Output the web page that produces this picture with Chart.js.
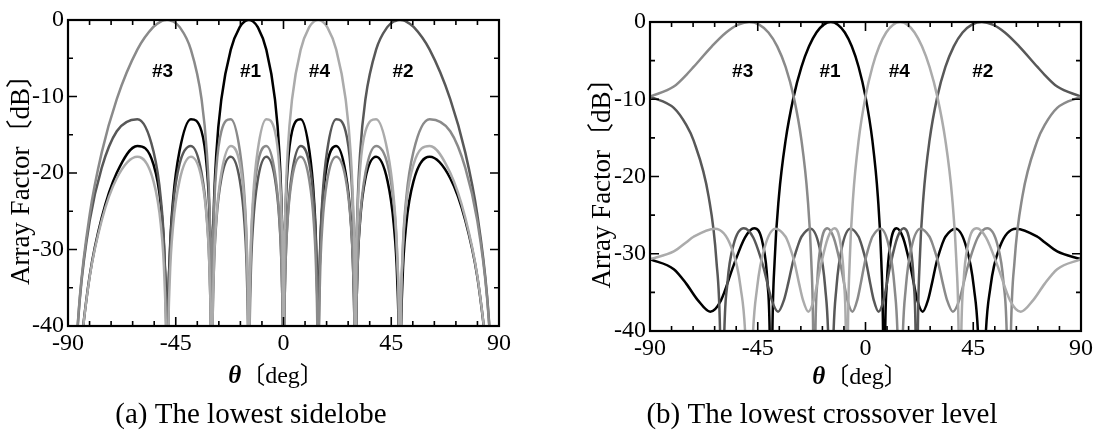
<!DOCTYPE html>
<html>
<head>
<meta charset="utf-8">
<script src="https://cdn.jsdelivr.net/npm/chart.js@4.4.0/dist/chart.umd.min.js"></script>
<style>
  body { margin: 0; background: #fff; }
  #wrap { position: relative; width: 1101px; height: 432px; }
  .box { position: absolute; top: 0; height: 432px; }
  #boxA { left: 0; width: 550px; }
  #boxB { left: 550px; width: 551px; }
</style>
</head>
<body>
<div id="wrap">
  <div class="box" id="boxA"><canvas id="chartA"></canvas></div>
  <div class="box" id="boxB"><canvas id="chartB"></canvas></div>
</div>
<script>
// (a) lowest sidelobe: all four beams share one angle grid (deg)
const thetaA = [-90, -85.04, -80.93, -75.93, -69.63, -61.04, -54.34, -51.26, -49.69, -48.92,
  -48.59, -48.27, -47.52, -46.05, -43.43, -38.68, -34.23, -32.01, -30.83, -30.25,
  -30, -29.75, -29.17, -28.03, -25.94, -22.02, -18.21, -16.26, -15.22, -14.70,
  -14.48, -14.26, -13.74, -12.71, -10.81, -7.18, -3.58, -1.72, -0.72, -0.21,
  0, 0.21, 0.72, 1.72, 3.58, 7.18, 10.81, 12.71, 13.74, 14.26,
  14.48, 14.70, 15.22, 16.26, 18.21, 22.02, 25.94, 28.03, 29.17, 29.75,
  30, 30.25, 30.83, 32.01, 34.23, 38.68, 43.43, 46.05, 47.52, 48.27,
  48.59, 48.92, 49.69, 51.26, 54.34, 61.04, 69.63, 75.93, 80.93, 85.04, 90];

// array factor in dB (nulls written as -60, below the axis)
const beam1A = [-60, -43.89, -33.41, -25.87, -19.98, -16.46, -18.84, -24.13, -31.33, -41.65,
  -60, -41.54, -30.99, -23.3, -17.12, -12.96, -14.54, -19.33, -26.23, -36.38,
  -60, -36.13, -25.41, -17.34, -10.33, -3.87, -0.9, -0.2, -0.04, 0,
  0, 0, -0.04, -0.2, -0.9, -3.87, -10.33, -17.34, -25.41, -36.13,
  -60, -36.38, -26.23, -19.33, -14.54, -12.96, -17.12, -23.3, -30.99, -41.54,
  -60, -41.65, -31.33, -24.13, -18.84, -16.46, -19.98, -25.87, -33.41, -43.89,
  -60, -43.94, -33.55, -26.21, -20.69, -17.89, -21.03, -26.73, -34.17, -44.6,
  -60, -44.6, -34.17, -26.73, -21.03, -17.89, -20.69, -26.21, -33.55, -43.94, -60];
const beam2A = [-60, -36.38, -26.23, -19.33, -14.54, -12.96, -17.12, -23.3, -30.99, -41.54,
  -60, -41.65, -31.33, -24.13, -18.84, -16.46, -19.98, -25.87, -33.41, -43.89,
  -60, -43.94, -33.55, -26.21, -20.69, -17.89, -21.03, -26.73, -34.17, -44.6,
  -60, -44.6, -34.17, -26.73, -21.03, -17.89, -20.69, -26.21, -33.55, -43.94,
  -60, -43.89, -33.41, -25.87, -19.98, -16.46, -18.84, -24.13, -31.33, -41.65,
  -60, -41.54, -30.99, -23.3, -17.12, -12.96, -14.54, -19.33, -26.23, -36.38,
  -60, -36.13, -25.41, -17.34, -10.33, -3.87, -0.9, -0.2, -0.04, 0,
  0, 0, -0.04, -0.2, -0.9, -3.87, -10.33, -17.34, -25.41, -36.13, -60];
const beam3A = [-60, -36.13, -25.41, -17.34, -10.33, -3.87, -0.9, -0.2, -0.04, 0,
  0, 0, -0.04, -0.2, -0.9, -3.87, -10.33, -17.34, -25.41, -36.13,
  -60, -36.38, -26.23, -19.33, -14.54, -12.96, -17.12, -23.3, -30.99, -41.54,
  -60, -41.65, -31.33, -24.13, -18.84, -16.46, -19.98, -25.87, -33.41, -43.89,
  -60, -43.94, -33.55, -26.21, -20.69, -17.89, -21.03, -26.73, -34.17, -44.6,
  -60, -44.6, -34.17, -26.73, -21.03, -17.89, -20.69, -26.21, -33.55, -43.94,
  -60, -43.89, -33.41, -25.87, -19.98, -16.46, -18.84, -24.13, -31.33, -41.65,
  -60, -41.54, -30.99, -23.3, -17.12, -12.96, -14.54, -19.33, -26.23, -36.38, -60];
const beam4A = [-60, -43.94, -33.55, -26.21, -20.69, -17.89, -21.03, -26.73, -34.17, -44.6,
  -60, -44.6, -34.17, -26.73, -21.03, -17.89, -20.69, -26.21, -33.55, -43.94,
  -60, -43.89, -33.41, -25.87, -19.98, -16.46, -18.84, -24.13, -31.33, -41.65,
  -60, -41.54, -30.99, -23.3, -17.12, -12.96, -14.54, -19.33, -26.23, -36.38,
  -60, -36.13, -25.41, -17.34, -10.33, -3.87, -0.9, -0.2, -0.04, 0,
  0, 0, -0.04, -0.2, -0.9, -3.87, -10.33, -17.34, -25.41, -36.13,
  -60, -36.38, -26.23, -19.33, -14.54, -12.96, -17.12, -23.3, -30.99, -41.54,
  -60, -41.65, -31.33, -24.13, -18.84, -16.46, -19.98, -25.87, -33.41, -43.89, -60];

// (b) lowest crossover level: each beam has its own angle samples
const theta1B = [-90, -80.06, -74.80, -70.05, -64.82, -60.46, -55.08, -50.35, -46.47, -42.84,
  -40.92, -39.94, -39.42, -38.91, -37.95, -36.16, -33.37, -30, -26.74, -23.58,
  -20.49, -17.46, -14.48, -11.54, -8.63, -5.74, -2.87, 0, 2.87, 5.16,
  6.60, 7.35, 7.76, 8.16, 8.92, 10.37, 13.00, 15.66, 18.66, 21.72,
  23.89, 26.10, 27.71, 29.01, 30, 31.00, 32.34, 33.37, 37.59, 42.07,
  45.23, 47.31, 48.59, 49.91, 52.19, 56.10, 62.88, 71.81, 74.80, 80.06, 90];
const beam1B = [-30.7, -32.0, -33.9, -36.0, -37.5, -36.1, -31.5, -27.9, -26.7, -28.8,
  -33.8, -41.7, -60, -40.8, -30.95, -22.6, -15.33, -9.66, -5.82, -3.15,
  -1.36, -0.34, 0, -0.34, -1.36, -3.15, -5.82, -9.66, -15.33, -22.6,
  -30.95, -40.8, -60, -41.7, -33.8, -28.8, -26.7, -27.9, -31.5, -36.1,
  -37.5, -36.0, -33.9, -32.0, -30.7, -29.7, -28.5, -27.8, -26.75, -29.1,
  -34.3, -42.6, -60, -42.6, -34.3, -29.1, -26.75, -27.8, -28.5, -29.7, -30.7];

const theta2B = [-90, -80.06, -74.80, -71.81, -65.51, -62.25, -60.69, -59.88, -59.09, -57.67,
  -55.08, -50.81, -46.89, -42.84, -39.05, -36.51, -34.06, -32.34, -31.00, -30,
  -29.01, -27.71, -26.74, -22.95, -19.27, -16.86, -15.37, -14.48, -13.59, -12.12,
  -9.79, -6.32, -2.87, -2.01, -0.86, 0, 0.86, 2.01, 3.44, 5.45,
  7.47, 10.37, 13.30, 15.96, 18.66, 20.18, 20.98, 21.41, 21.84, 22.64,
  24.20, 26.74, 30, 33.37, 36.87, 40.54, 44.43, 48.59, 53.13, 58.21,
  64.16, 71.81, 74.80, 80.06, 90];
const beam2B = [-9.66, -11.12, -13.36, -15.33, -22.6, -30.95, -40.8, -60, -41.7, -33.8,
  -28.8, -26.7, -27.9, -31.5, -36.1, -37.5, -36.0, -33.9, -32.0, -30.7,
  -29.7, -28.5, -27.8, -26.75, -29.1, -34.3, -42.6, -60, -42.6, -34.3,
  -29.1, -26.75, -27.8, -28.5, -29.7, -30.7, -32.0, -33.9, -36.0, -37.5,
  -36.1, -31.5, -27.9, -26.7, -28.8, -33.8, -41.7, -60, -40.8, -30.95,
  -22.6, -15.33, -9.66, -5.82, -3.15, -1.36, -0.34, 0, -0.34, -1.36,
  -3.15, -5.82, -6.83, -8.36, -9.66];

const theta3B = [-90, -80.06, -74.80, -71.81, -64.16, -58.21, -53.13, -48.59, -44.43, -40.54,
  -36.87, -33.37, -30, -26.74, -24.20, -22.64, -21.84, -21.41, -20.98, -20.18,
  -18.66, -15.96, -13.30, -10.37, -7.47, -5.45, -3.44, -2.01, -0.86, 0,
  0.86, 2.01, 2.87, 6.32, 9.79, 12.12, 13.59, 14.48, 15.37, 16.86,
  19.27, 22.95, 26.74, 27.71, 29.01, 30, 31.00, 32.34, 34.06, 36.51,
  39.05, 42.84, 46.89, 50.81, 55.08, 57.67, 59.09, 59.88, 60.69, 62.25,
  65.51, 71.81, 74.80, 80.06, 90];
const beam3B = [-9.66, -8.36, -6.83, -5.82, -3.15, -1.36, -0.34, 0, -0.34, -1.36,
  -3.15, -5.82, -9.66, -15.33, -22.6, -30.95, -40.8, -60, -41.7, -33.8,
  -28.8, -26.7, -27.9, -31.5, -36.1, -37.5, -36.0, -33.9, -32.0, -30.7,
  -29.7, -28.5, -27.8, -26.75, -29.1, -34.3, -42.6, -60, -42.6, -34.3,
  -29.1, -26.75, -27.8, -28.5, -29.7, -30.7, -32.0, -33.9, -36.0, -37.5,
  -36.1, -31.5, -27.9, -26.7, -28.8, -33.8, -41.7, -60, -40.8, -30.95,
  -22.6, -15.33, -13.36, -11.12, -9.66];

const theta4B = [-90, -80.06, -74.80, -71.81, -62.88, -56.10, -52.19, -49.91, -48.59, -47.31,
  -45.23, -42.07, -37.59, -33.37, -32.34, -31.00, -30, -29.01, -27.71, -26.10,
  -23.89, -21.72, -18.66, -15.66, -13.00, -10.37, -8.92, -8.16, -7.76, -7.35,
  -6.60, -5.16, -2.87, 0, 2.87, 5.74, 8.63, 11.54, 14.48, 17.46,
  20.49, 23.58, 26.74, 30, 33.37, 36.16, 37.95, 38.91, 39.42, 39.94,
  40.92, 42.84, 46.47, 50.35, 55.08, 60.46, 64.82, 70.05, 74.80, 80.06, 90];
const beam4B = [-30.7, -29.7, -28.5, -27.8, -26.75, -29.1, -34.3, -42.6, -60, -42.6,
  -34.3, -29.1, -26.75, -27.8, -28.5, -29.7, -30.7, -32.0, -33.9, -36.0,
  -37.5, -36.1, -31.5, -27.9, -26.7, -28.8, -33.8, -41.7, -60, -40.8,
  -30.95, -22.6, -15.33, -9.66, -5.82, -3.15, -1.36, -0.34, 0, -0.34,
  -1.36, -3.15, -5.82, -9.66, -15.33, -22.6, -30.95, -40.8, -60, -41.7,
  -33.8, -28.8, -26.7, -27.9, -31.5, -36.1, -37.5, -36.0, -33.9, -32.0, -30.7];

const beamNames = ["#1", "#2", "#3", "#4"];
const beamColors = ["#000000", "#585858", "#8a8a8a", "#ababab"];

// where the beam names sit (deg, dB)
const labelThetaA = [-13.8, 49.9, -50.5, 15];
const labelThetaB = [-14.8, 49, -51.3, 14.1];
const labelLevelA = -6.8;
const labelLevelB = -6.4;

const serif = '"Liberation Serif", "Times New Roman", "Noto Sans CJK JP", serif';

const toPoints = (xs, ys) => xs.map((v, i) => ({ x: v, y: ys[i] }));

// frame, inward ticks, beam names, x title and caption
const framePlugin = {
  id: "frame",
  afterDatasetsDraw(chart, args, opts) {
    const { ctx, chartArea: a } = chart;
    const x = chart.scales.x, y = chart.scales.y;
    ctx.save();
    ctx.strokeStyle = "#000";
    ctx.lineWidth = 1.6;
    ctx.beginPath();
    x.ticks.forEach((t) => {
      const px = x.getPixelForValue(t.value);
      const len = t.value % 45 === 0 ? 9 : 5;
      ctx.moveTo(px, a.bottom); ctx.lineTo(px, a.bottom - len);
      ctx.moveTo(px, a.top); ctx.lineTo(px, a.top + len);
    });
    y.ticks.forEach((t) => {
      const py = y.getPixelForValue(t.value);
      const len = t.value % 10 === 0 ? 9 : 5;
      ctx.moveTo(a.left, py); ctx.lineTo(a.left + len, py);
      ctx.moveTo(a.right, py); ctx.lineTo(a.right - len, py);
    });
    ctx.stroke();
    ctx.lineWidth = 2.2;
    ctx.strokeRect(a.left, a.top, a.right - a.left, a.bottom - a.top);

    ctx.fillStyle = "#000";
    ctx.textAlign = "center";
    ctx.textBaseline = "middle";
    ctx.font = 'bold 19px "Liberation Sans", Arial, sans-serif';
    opts.labelTheta.forEach((th, i) => {
      ctx.fillText(beamNames[i], x.getPixelForValue(th), y.getPixelForValue(opts.labelLevel));
    });

    // x axis title: bold italic theta + bracketed unit
    ctx.textAlign = "left";
    ctx.font = "bold italic 25px " + serif;
    const wTheta = ctx.measureText("θ").width;
    ctx.font = "24px " + serif;
    const unit = "〔deg〕";
    const wUnit = ctx.measureText(unit).width;
    const x0 = opts.xTitleX - (wTheta + wUnit) / 2;
    ctx.font = "bold italic 25px " + serif;
    ctx.fillText("θ", x0, opts.xTitleY);
    ctx.font = "24px " + serif;
    ctx.fillText(unit, x0 + wTheta, opts.xTitleY);

    ctx.textAlign = "center";
    ctx.font = "29px " + serif;
    ctx.fillText(opts.caption, opts.captionX, opts.captionY);
    ctx.restore();
  }
};

function makeChart(id, sets, pad, yWidth, xHeight, titlePad, frame) {
  return new Chart(document.getElementById(id), {
    type: "line",
    data: {
      datasets: sets.map((s, i) => ({
        label: beamNames[i],
        data: s,
        borderColor: beamColors[i],
        borderWidth: 2.5,
        pointRadius: 0,
        fill: false,
        cubicInterpolationMode: "monotone",
        clip: 0,
        order: 4 - i
      }))
    },
    plugins: [framePlugin],
    options: {
      responsive: true,
      maintainAspectRatio: false,
      animation: false,
      devicePixelRatio: 1,
      layout: { padding: pad },
      plugins: {
        legend: { display: false },
        tooltip: { enabled: false },
        frame: frame
      },
      scales: {
        x: {
          type: "linear",
          min: -90,
          max: 90,
          grid: { display: false, drawTicks: false },
          border: { display: false },
          afterFit: (s) => { s.height = xHeight; },
          ticks: {
            stepSize: 9,
            autoSkip: false,
            maxRotation: 0,
            padding: 3,
            color: "#000",
            font: { family: serif, size: 24 },
            callback: (v) => (v % 45 === 0 ? String(v) : "")
          }
        },
        y: {
          min: -40,
          max: 0,
          grid: { display: false, drawTicks: false },
          border: { display: false },
          afterFit: (s) => { s.width = yWidth; },
          title: {
            display: true,
            text: "Array Factor〔dB〕",
            color: "#000",
            font: { family: serif, size: 27 },
            padding: { top: titlePad, bottom: 0 }
          },
          ticks: {
            stepSize: 5,
            padding: 4,
            color: "#000",
            font: { family: serif, size: 24 },
            callback: (v) => (v % 10 === 0 ? (v === 0 ? "0" : String(v)) : "")
          }
        }
      }
    }
  });
}

makeChart("chartA",
  [toPoints(thetaA, beam1A), toPoints(thetaA, beam2A), toPoints(thetaA, beam3A), toPoints(thetaA, beam4A)],
  { left: 0, right: 51, top: 20, bottom: 0 }, 68, 106, 6,
  { labelTheta: labelThetaA, labelLevel: labelLevelA, xTitleX: 276, xTitleY: 377,
    caption: "(a) The lowest sidelobe", captionX: 251, captionY: 415 });

makeChart("chartB",
  [toPoints(theta1B, beam1B), toPoints(theta2B, beam2B), toPoints(theta3B, beam3B), toPoints(theta4B, beam4B)],
  { left: 0, right: 20, top: 22, bottom: 0 }, 100, 101, 37,
  { labelTheta: labelThetaB, labelLevel: labelLevelB, xTitleX: 310, xTitleY: 378,
    caption: "(b) The lowest crossover level", captionX: 272, captionY: 415 });
</script>
</body>
</html>
